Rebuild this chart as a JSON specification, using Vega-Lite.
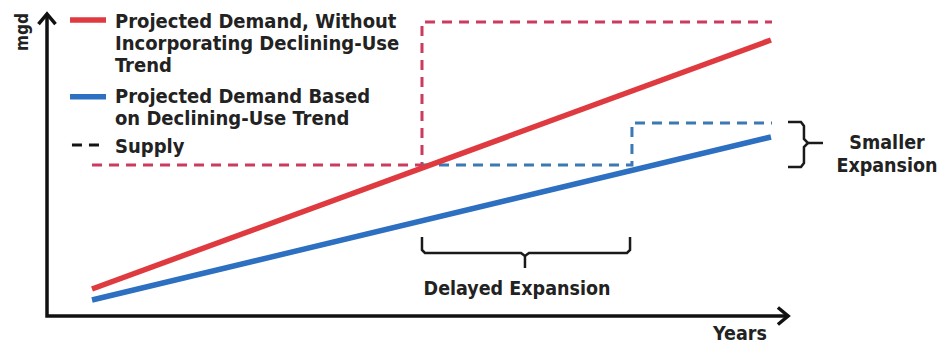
{
  "$schema": "https://vega.github.io/schema/vega-lite/v6.json",
  "width": 940,
  "height": 344,
  "autosize": {"type": "fit", "contains": "padding"},
  "padding": 0,
  "background": "white",
  "config": {"view": {"stroke": null}},
  "resolve": {"scale": {"color": "independent"}},
  "datasets": {
    "demand": [
      {"s": "Without declining-use trend", "o": 1, "x": 6.06, "y": 9.0},
      {"s": "Without declining-use trend", "o": 2, "x": 97.44, "y": 92.0},
      {"s": "Declining-use trend", "o": 1, "x": 6.06, "y": 5.33},
      {"s": "Declining-use trend", "o": 2, "x": 97.44, "y": 59.67},
      {"s": "Key without", "o": 1, "x": 3.1, "y": 98.67},
      {"s": "Key without", "o": 2, "x": 7.94, "y": 98.67},
      {"s": "Key declining", "o": 1, "x": 3.1, "y": 73.1},
      {"s": "Key declining", "o": 2, "x": 7.94, "y": 73.1}
    ],
    "supply": [
      {"s": "Supply without", "o": 1, "x": 6.06, "y": 50.33},
      {"s": "Supply without", "o": 2, "x": 50.47, "y": 50.33},
      {"s": "Supply without", "o": 3, "x": 50.47, "y": 98.0},
      {"s": "Supply without", "o": 4, "x": 97.58, "y": 98.0},
      {"s": "Supply declining", "o": 1, "x": 50.47, "y": 50.33},
      {"s": "Supply declining", "o": 2, "x": 78.73, "y": 50.33},
      {"s": "Supply declining", "o": 3, "x": 78.73, "y": 64.33},
      {"s": "Supply declining", "o": 4, "x": 97.58, "y": 64.33},
      {"s": "Key supply", "o": 1, "x": 3.36, "y": 57.0},
      {"s": "Key supply", "o": 2, "x": 7.54, "y": 57.0}
    ],
    "frame": [
      {"s": "axes", "o": 1, "x": 0, "y": 100.0},
      {"s": "axes", "o": 2, "x": 0, "y": 0},
      {"s": "axes", "o": 3, "x": 99.4, "y": 0}
    ],
    "arrowsUp": [{"x": 0, "y": 99.0}],
    "arrowsRight": [{"x": 99.06, "y": 0}],
    "brackets": [
      {"s": "smaller", "o": 1, "x": 99.73, "y": 64.67},
      {"s": "smaller", "o": 2, "x": 101.48, "y": 64.67},
      {"s": "smaller", "o": 3, "x": 101.88, "y": 63.33},
      {"s": "smaller", "o": 4, "x": 101.88, "y": 59.0},
      {"s": "smaller", "o": 5, "x": 102.42, "y": 57.67},
      {"s": "smaller", "o": 6, "x": 101.88, "y": 56.33},
      {"s": "smaller", "o": 7, "x": 101.88, "y": 51.0},
      {"s": "smaller", "o": 8, "x": 101.48, "y": 49.67},
      {"s": "smaller", "o": 9, "x": 99.73, "y": 49.67},
      {"s": "smaller tick", "o": 1, "x": 102.42, "y": 57.67},
      {"s": "smaller tick", "o": 2, "x": 104.44, "y": 57.67},
      {"s": "delayed", "o": 1, "x": 50.47, "y": 26.33},
      {"s": "delayed", "o": 2, "x": 50.47, "y": 22.0},
      {"s": "delayed", "o": 3, "x": 50.87, "y": 21.0},
      {"s": "delayed", "o": 4, "x": 63.8, "y": 21.0},
      {"s": "delayed", "o": 5, "x": 64.33, "y": 20.0},
      {"s": "delayed", "o": 6, "x": 64.87, "y": 21.0},
      {"s": "delayed", "o": 7, "x": 78.06, "y": 21.0},
      {"s": "delayed", "o": 8, "x": 78.47, "y": 22.0},
      {"s": "delayed", "o": 9, "x": 78.47, "y": 26.33},
      {"s": "delayed tick", "o": 1, "x": 64.33, "y": 20.0},
      {"s": "delayed tick", "o": 2, "x": 64.33, "y": 16.0}
    ],
    "legendText": [
      {"t": "Projected Demand, Without", "x": 9.15, "y": 96.0},
      {"t": "Incorporating Declining-Use", "x": 9.15, "y": 88.67},
      {"t": "Trend", "x": 9.15, "y": 81.33},
      {"t": "Projected Demand Based", "x": 9.15, "y": 71.0},
      {"t": "on Declining-Use Trend", "x": 9.15, "y": 63.67},
      {"t": "Supply", "x": 9.15, "y": 54.33}
    ],
    "notes": [
      {"t": "Smaller", "x": 113.06, "y": 55.67},
      {"t": "Expansion", "x": 113.06, "y": 48.0},
      {"t": "Delayed Expansion", "x": 63.26, "y": 7.0},
      {"t": "Years", "x": 93.27, "y": -8.0}
    ],
    "yTitle": [{"t": "mgd", "x": -3.23, "y": 94.67}]
  },
  "encoding": {
    "x": {"field": "x", "type": "quantitative", "scale": {"domain": [-6.326, 120.19], "nice": false, "zero": false}, "axis": null},
    "y": {"field": "y", "type": "quantitative", "scale": {"domain": [-9.333, 105.333], "nice": false, "zero": false}, "axis": null}
  },
  "layer": [
    {
      "data": {"name": "supply"},
      "mark": {"type": "line", "strokeWidth": 3, "strokeDash": [10, 7], "strokeCap": "butt"},
      "encoding": {
        "detail": {"field": "s"},
        "order": {"field": "o"},
        "color": {"field": "s", "type": "nominal", "legend": null,
          "scale": {"domain": ["Supply without", "Supply declining", "Key supply"], "range": ["#cc3b5e", "#3b78b4", "#141414"]}}
      }
    },
    {
      "data": {"name": "demand"},
      "mark": {"type": "line", "strokeWidth": 5.5, "strokeCap": "butt"},
      "encoding": {
        "detail": {"field": "s"},
        "order": {"field": "o"},
        "color": {"field": "s", "type": "nominal", "legend": null,
          "scale": {"domain": ["Without declining-use trend", "Declining-use trend", "Key without", "Key declining"], "range": ["#df3a3f", "#2d6fc1", "#df3a3f", "#2d6fc1"]}}
      }
    },
    {
      "data": {"name": "frame"},
      "mark": {"type": "line", "strokeWidth": 3.5, "color": "#111111", "strokeJoin": "miter", "strokeCap": "square"},
      "encoding": {"order": {"field": "o"}}
    },
    {
      "data": {"name": "arrowsUp"},
      "mark": {"type": "point", "shape": "M-1,0.6L0,-0.6L1,0.6", "size": 289, "filled": false, "strokeWidth": 3.5, "color": "#111111", "opacity": 1},
      "encoding": {}
    },
    {
      "data": {"name": "arrowsRight"},
      "mark": {"type": "point", "shape": "M-0.6,-1L0.6,0L-0.6,1", "size": 289, "filled": false, "strokeWidth": 3.5, "color": "#111111", "opacity": 1},
      "encoding": {}
    },
    {
      "data": {"name": "brackets"},
      "mark": {"type": "line", "strokeWidth": 2.5, "color": "#1a1a1a"},
      "encoding": {"detail": {"field": "s"}, "order": {"field": "o"}}
    },
    {
      "data": {"name": "legendText"},
      "mark": {"type": "text", "align": "left", "baseline": "alphabetic", "font": "DejaVu Sans Condensed", "fontWeight": "bold", "fontSize": 20, "color": "#222222"},
      "encoding": {"text": {"field": "t"}}
    },
    {
      "data": {"name": "notes"},
      "mark": {"type": "text", "align": "center", "baseline": "alphabetic", "font": "DejaVu Sans Condensed", "fontWeight": "bold", "fontSize": 19.5, "color": "#222222"},
      "encoding": {"text": {"field": "t"}}
    },
    {
      "data": {"name": "yTitle"},
      "mark": {"type": "text", "align": "center", "baseline": "middle", "angle": 270, "font": "DejaVu Sans Condensed", "fontWeight": "bold", "fontSize": 17, "color": "#222222"},
      "encoding": {"text": {"field": "t"}}
    }
  ]
}
